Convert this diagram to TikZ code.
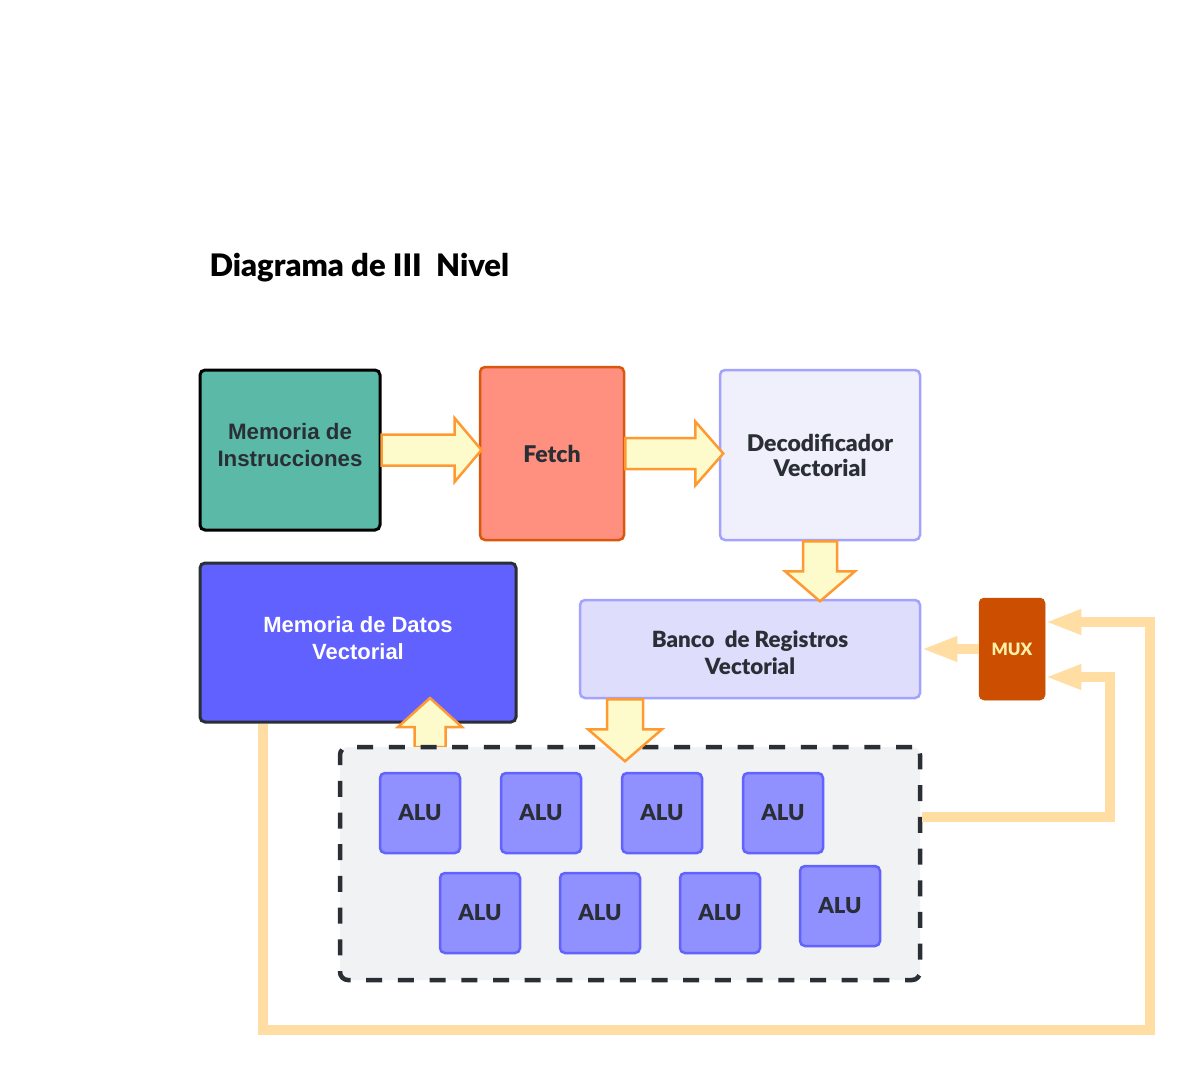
\documentclass[tikz,border=0pt]{standalone}
\usepackage{fontspec}
\setmainfont{Lato}[BoldFont={Lato Black}]
\newfontfamily\arialb{Liberation Sans}[BoldFont=* Bold]
\usetikzlibrary{arrows.meta,calc}
\definecolor{teal1}{HTML}{5BB9A8}
\definecolor{fetchfill}{HTML}{FF8F7F}
\definecolor{fetchdraw}{HTML}{D9580D}
\definecolor{decfill}{HTML}{F0F0FD}
\definecolor{lavdraw}{HTML}{A3A3FF}
\definecolor{bancofill}{HTML}{DEDEFC}
\definecolor{mdfill}{HTML}{6161FF}
\definecolor{darkb}{HTML}{2A2E35}
\definecolor{muxfill}{HTML}{CC4E00}
\definecolor{muxtext}{HTML}{FFF0A8}
\definecolor{alufill}{HTML}{9090FE}
\definecolor{aludraw}{HTML}{6262FF}
\definecolor{bafill}{HTML}{FDFBCC}
\definecolor{badraw}{HTML}{FF9A33}
\definecolor{fbline}{HTML}{FFDDA3}
\definecolor{contfill}{HTML}{F1F2F4}
\tikzset{
  box/.style={rectangle, rounded corners=5pt, line width=2.5pt, inner sep=0pt, align=center, text=darkb, font=\fontsize{23}{25}\selectfont\bfseries},
  alubox/.style={box, fill=alufill, draw=aludraw, minimum width=80pt, minimum height=80pt, font=\fontsize{22}{25}\selectfont\bfseries},
  txt/.style={inner sep=0pt, align=center},
  blockarrow/.style={fill=bafill, draw=badraw, line width=2.5pt, line join=miter},
  fb/.style={draw=fbline, line width=10pt, line join=miter, -{Triangle[length=36pt,width=23pt]}},
}
% #1 start, #2 angle, #3 length, #4 head length, #5 shaft half, #6 head half
\newcommand\blockarr[6]{%
  \draw[blockarrow, shift={(#1)}, rotate=#2] (0,-#5) -- ({#3-#4},-#5) -- ({#3-#4},-#6) -- (#3,0) -- ({#3-#4},#6) -- ({#3-#4},#5) -- (0,#5) -- cycle;}
\begin{document}
\begin{tikzpicture}[x=1pt,y=-1pt]
\useasboundingbox (0,0) rectangle (1190,1070);
\fill[white] (0,0) rectangle (1190,1070);

\node[anchor=base west, font=\fontsize{31}{36}\selectfont\bfseries, text=black] (title) at (206,276) {Diagrama de III\ \ Nivel};

\node[box, fill=teal1, draw=black, line width=3pt, minimum width=180pt, minimum height=160pt] (mi) at (290,450) {};
\node[txt, text=darkb, font=\arialb\fontsize{22.3}{27}\selectfont\bfseries] (mitext) at (290,445.5) {Memoria de\\Instrucciones};
\node[box, fill=fetchfill, draw=fetchdraw, minimum width=144pt, minimum height=173pt] (fetch) at (552,453.5) {Fetch};
\node[box, fill=decfill, draw=lavdraw, minimum width=200pt, minimum height=170pt] (dec) at (820,455) {Decodificador\\Vectorial};
\node[box, fill=mdfill, draw=darkb, line width=3pt, minimum width=316pt, minimum height=159pt] (md) at (358,642.5) {};
\node[txt, text=white, font=\arialb\fontsize{22}{27}\selectfont\bfseries] (mdtext) at (358,638.5) {Memoria de Datos\\Vectorial};
\node[box, fill=bancofill, draw=lavdraw, minimum width=340pt, minimum height=98pt] (banco) at (750,649) {};
\node[txt, text=darkb, font=\fontsize{22.3}{27}\selectfont\bfseries] (bancotext) at (750,652.5) {Banco\ \ de Registros\\Vectorial};
\node[box, fill=muxfill, draw=muxfill, line width=0.5pt, minimum width=66pt, minimum height=102pt, text=muxtext, font=\fontsize{17}{20}\selectfont\bfseries] (mux) at (1012,649) {MUX};

% block arrows
\blockarr{mi.east}{0}{100}{27}{15.5}{32}
\blockarr{fetch.east}{0}{98}{28}{15.5}{32}
\blockarr{dec.south}{-90}{60}{30}{17}{35}
\coordinate (cTop) at (430,747);
\blockarr{cTop}{90}{49}{29}{15.5}{32}

% ALU container
\node[rectangle, rounded corners=8pt, fill=contfill, draw=darkb, line width=4.5pt, dash pattern=on 16pt off 15.7pt, minimum width=580pt, minimum height=233pt, inner sep=0pt] (cont) at (630,863.5) {};

\blockarr{$(banco.south)+(-125,0)$}{-90}{62}{32}{18}{37}

\node[alubox] (a1) at (420,813) {ALU};
\node[alubox] (a2) at (541,813) {ALU};
\node[alubox] (a3) at (662,813) {ALU};
\node[alubox] (a4) at (783,813) {ALU};
\node[alubox] (a5) at (480,913) {ALU};
\node[alubox] (a6) at (600,913) {ALU};
\node[alubox] (a7) at (720,913) {ALU};
\node[alubox] (a8) at (840,906) {ALU};

% feedback lines
\coordinate (fbA) at (1150,1030);
\coordinate (fbB) at (1150,622);
\coordinate (fbC) at (1110,817);
\coordinate (fbD) at (1110,677);
\draw[fb] (mux.west) -- (mux.west -| banco.east);
\draw[fb] ($(md.south west)+(64,0)$) |- (fbA) -- (fbB) -- (fbB -| mux.east);
\draw[fb] (fbC -| cont.east) -- (fbC) -- (fbD) -- (fbD -| mux.east);
\end{tikzpicture}
\end{document}
